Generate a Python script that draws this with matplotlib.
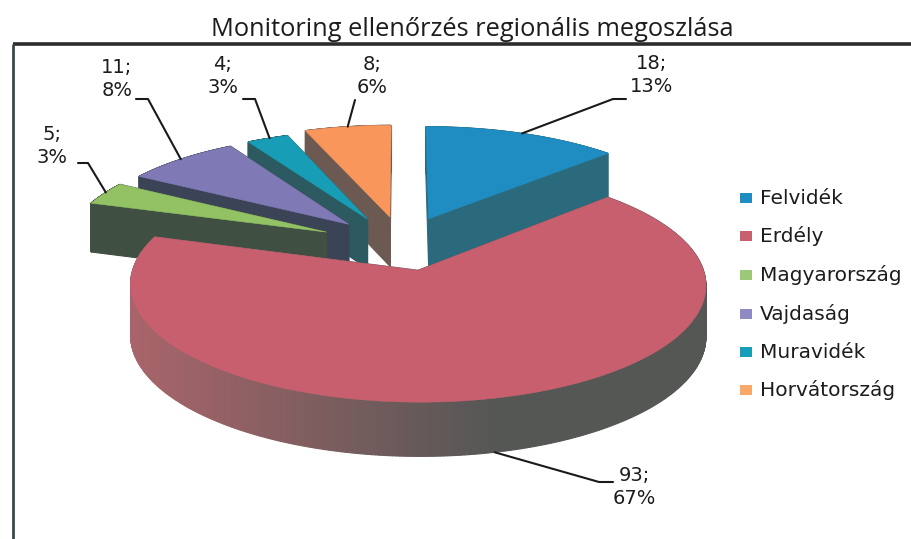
import numpy as np
import matplotlib
matplotlib.use("Agg")
import matplotlib.pyplot as plt
from matplotlib.patches import Polygon, Rectangle
from matplotlib.colors import to_rgb

title = "Monitoring ellenőrzés regionális megoszlása"
regions = ["Felvidék", "Erdély", "Magyarország", "Vajdaság", "Muravidék", "Horvátország"]
counts = [18, 93, 5, 11, 4, 8]
percents = [13, 67, 3, 8, 3, 6]
top_colors = ["#1f8dc2", "#c85f6f", "#93c264", "#7f7ab6", "#189db6", "#f8965c"]
wall_colors = ["#2b6a7c", "#5a5a58", "#3f4f42", "#3a4456", "#2c5a60", "#6c5a52"]
legend_colors = ["#1f8dc2", "#c9606e", "#9cc87a", "#8f8ac4", "#189db6", "#f8a868"]

# Layout of the projected pie (pixels)
CX, CY, A, B, K, EXPLODE, DEPTH = 402, 243, 277, 108.7, 0.121, 0.25, 50
# Per-slice screen shift and radius scale (perspective correction)
SHIFT = [0, 0, -13, -5, -5, 0]
SCALE = [1, 1, 0.94, 0.96, 0.96, 1]

fig = plt.figure(figsize=(9.12, 5.39), dpi=100, facecolor="white")
ax = fig.add_axes([0, 0, 1, 1])
ax.set_xlim(0, 912)
ax.set_ylim(539, 0)
ax.axis("off")


def project(u, v, dx=0):
    w = 1 + K * v
    return CX + dx + A * u / w, CY - B * v / w, DEPTH / np.sqrt(w)


fractions = np.array(counts) / sum(counts)
edges = np.concatenate([[0], np.cumsum(fractions)]) * 2 * np.pi


def slice_points(i, n=400):
    start, end = edges[i], edges[i + 1]
    mid = (start + end) / 2
    ou, ov = EXPLODE * np.sin(mid), EXPLODE * np.cos(mid)
    th = np.linspace(start, end, n)
    r = SCALE[i]
    return project(ou, ov, SHIFT[i]), project(ou + r * np.sin(th), ov + r * np.cos(th), SHIFT[i]), th


def quad(p, q, color, z):
    ax.add_patch(Polygon([(p[0], p[1]), (q[0], q[1]), (q[0], q[1] + q[2]), (p[0], p[1] + p[2])],
                         closed=True, fc=color, ec=color, lw=0.8, zorder=z))


draw_order = [5, 4, 3, 2, 0, 1]
for z, i in enumerate(draw_order):
    apex, arc, th = slice_points(i)
    base = z * 10 + 1
    first = (arc[0][0], arc[1][0], arc[2][0])
    last = (arc[0][-1], arc[1][-1], arc[2][-1])
    quad(apex, first, wall_colors[i], base)
    quad(apex, last, wall_colors[i], base)
    for k in range(len(th) - 1):
        p = (arc[0][k], arc[1][k], arc[2][k])
        q = (arc[0][k + 1], arc[1][k + 1], arc[2][k + 1])
        col = wall_colors[i]
        if i == 1:
            t = np.clip((p[0] - 135) / 360, 0, 1)
            col = tuple((1 - t) * np.array(to_rgb("#a8646a")) + t * np.array(to_rgb("#555755")))
        quad(p, q, col, base + 1)
    pts = [(apex[0], apex[1])] + list(zip(arc[0], arc[1]))
    ax.add_patch(Polygon(pts, closed=True, fc=top_colors[i], ec=top_colors[i], lw=0.4, zorder=base + 2))

# Leader lines: start on the slice rim (fraction along its arc), then elbow and end
leader_paths = {
    0: (0.50, False, [(613, 99), (626, 99)]),
    1: (0.50, True, [(599, 482), (613, 482)]),
    2: (0.55, False, [(88, 163), (78, 163)]),
    3: (0.50, False, [(148, 99), (136, 99)]),
    4: (0.55, False, [(255, 99), (243, 99)]),
    5: (0.50, False, [(355, 100)]),
}
for i, (frac, lower, tail) in leader_paths.items():
    _, arc, th = slice_points(i)
    k = int(frac * (len(th) - 1))
    sx, sy = arc[0][k], arc[1][k] + (arc[2][k] if lower else 0)
    xs = [sx] + [t[0] for t in tail]
    ys = [sy] + [t[1] for t in tail]
    ax.plot(xs, ys, color="#1a1a1a", lw=1.5, zorder=100, solid_capstyle="round")

label_xy = [(652, 75), (634, 487), (52, 146), (117, 79), (223, 76), (372, 76)]
for i, (x, y) in enumerate(label_xy):
    ax.text(x, y, f"{counts[i]};\n{percents[i]}%", ha="center", va="center",
            fontsize=14, color="#1c1c1c", linespacing=1.3, zorder=110)

legend_y = [198, 236, 275, 314, 352, 390]
for name, col, y in zip(regions, legend_colors, legend_y):
    ax.add_patch(Rectangle((740, y - 5), 12, 10, fc=col, ec="none", zorder=110))
    ax.text(760, y, name, ha="left", va="center", fontsize=14.5, color="#1c1c1c", zorder=110)

ax.text(472, 30, title, ha="center", va="center", fontsize=18.3, family="Open Sans", color="#1c1c1c")
ax.plot([13, 912], [44, 44], color="#2c2c2c", lw=2.6, zorder=120, solid_capstyle="butt")
ax.plot([13, 13], [44, 539], color="#3a4a4c", lw=2, zorder=120, solid_capstyle="butt")

fig.savefig("out.png", dpi=100, facecolor="white")
